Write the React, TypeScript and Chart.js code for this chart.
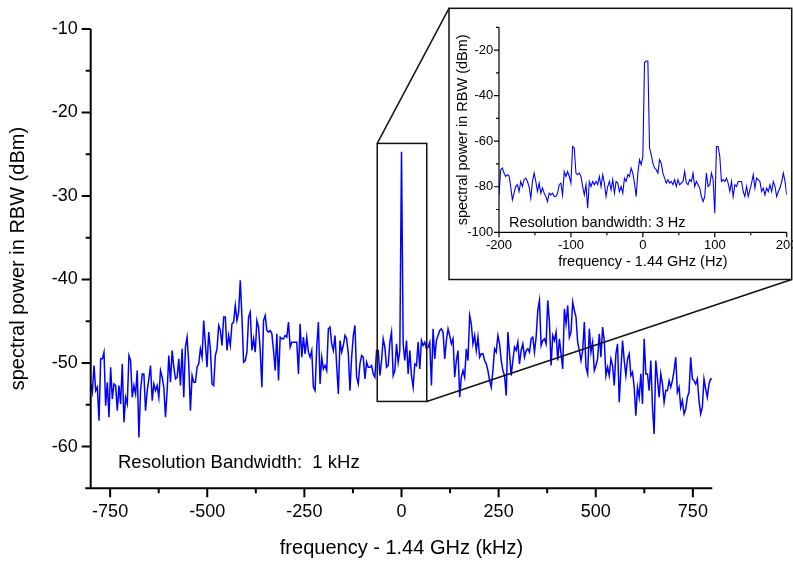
import React, { useEffect, useRef } from 'react';
import { Chart, registerables } from 'chart.js';
Chart.register(...registerables);

// ---------------- DATA ----------------
const mainStartKHz = -800;
const mainEndKHz = 800;
const mainPower = [
  -52.5,-53.5,-50.3,-53.3,-52.9,-56.9,-49.5,-49.5,-48.7,-55.1,
  -52.3,-56.5,-50.5,-54.3,-52.5,-52.7,-55.7,-52.7,-54.9,-50.1,
  -57.1,-54.1,-54.9,-49.1,-49.7,-54.1,-52.7,-53.7,-50.9,-58.9,
  -53.3,-51.3,-51.3,-55.7,-53.3,-51.9,-50.3,-54.5,-52.5,-53.3,
  -52.7,-54.1,-50.9,-51.7,-52.9,-56.5,-53.3,-49.1,-52.3,-48.5,
  -50.5,-51.9,-51.7,-49.5,-52.7,-48.3,-54.1,-48.1,-46.9,-50.1,
  -55.7,-51.5,-52.3,-52.3,-50.5,-50.1,-48.3,-49.3,-44.9,-47.7,
  -50.5,-46.3,-48.3,-52.5,-52.7,-49.1,-48.3,-45.5,-46.1,-47.9,
  -44.5,-44.5,-48.5,-46.7,-47.9,-45.3,-45.1,-43.1,-44.9,-43.9,
  -40.1,-44.5,-49.9,-49.7,-48.7,-44.5,-43.9,-48.5,-47.1,-48.7,
  -44.9,-45.7,-48.5,-52.9,-44.9,-44.3,-46.1,-46.3,-46.1,-46.5,
  -48.5,-50.9,-46.5,-52.1,-46.9,-47.1,-47.1,-46.7,-46.9,-45.1,
  -48.1,-47.5,-47.5,-47.5,-47.5,-51.3,-45.3,-49.3,-46.9,-48.9,
  -46.9,-48.7,-49.3,-48.5,-52.9,-53.3,-48.1,-45.1,-52.5,-49.3,
  -50.7,-50.3,-50.9,-45.9,-45.7,-47.7,-48.5,-46.7,-50.3,-53.7,
  -47.3,-48.7,-47.9,-46.7,-47.1,-48.9,-53.3,-49.3,-46.7,-45.5,
  -51.7,-52.5,-50.1,-49.1,-49.3,-51.9,-49.9,-50.5,-50.5,-50.3,
  -51.3,-51.7,-48.5,-48.5,-51.5,-49.7,-47.1,-48.1,-50.5,-50.3,
  -47.5,-46.3,-51.5,-50.9,-47.7,-49.9,-48.5,-24.7,-47.7,-49.7,
  -47.3,-51.3,-48.5,-51.5,-52.9,-50.1,-50.3,-47.5,-50.7,-47.3,
  -47.9,-47.5,-48.3,-48.1,-47.5,-52.7,-45.9,-49.5,-47.3,-46.7,
  -46.1,-45.9,-46.3,-49.5,-47.3,-45.9,-46.7,-47.7,-47.1,-51.7,
  -49.7,-48.5,-54.1,-51.7,-50.9,-51.7,-48.3,-49.7,-44.3,-45.3,
  -47.7,-46.7,-48.5,-46.9,-49.3,-48.9,-48.9,-49.7,-50.1,-50.9,
  -52.1,-52.9,-50.9,-48.3,-48.7,-46.7,-47.7,-49.7,-50.9,-51.5,
  -53.9,-46.3,-48.9,-51.5,-49.7,-48.1,-48.5,-47.5,-50.1,-48.5,
  -47.7,-49.3,-48.5,-48.3,-48.7,-47.1,-46.9,-48.7,-46.9,-43.7,
  -42.5,-47.9,-47.3,-47.1,-47.7,-42.5,-45.1,-50.3,-46.7,-47.3,
  -46.3,-49.7,-47.1,-48.9,-50.7,-43.5,-45.3,-43.1,-46.9,-46.3,
  -42.7,-43.7,-44.5,-47.5,-48.5,-49.7,-48.5,-45.1,-50.5,-51.3,
  -45.9,-48.7,-47.5,-50.9,-50.3,-49.5,-46.5,-49.3,-45.7,-47.3,
  -51.5,-50.5,-51.5,-49.5,-50.3,-52.7,-48.9,-47.7,-54.7,-50.9,
  -47.3,-49.7,-51.5,-49.5,-48.9,-51.5,-51.1,-52.9,-56.3,-52.9,
  -54.1,-51.3,-54.9,-47.1,-51.3,-51.3,-53.3,-49.7,-55.3,-58.5,
  -49.7,-51.9,-54.1,-51.3,-52.5,-54.7,-53.3,-53.3,-52.1,-52.9,
  -52.1,-50.9,-49.3,-53.5,-52.9,-55.3,-54.5,-56.1,-55.5,-54.1,
  -53.5,-49.3,-51.9,-52.1,-52.5,-51.9,-54.5,-56.1,-55.3,-51.9,
  -53.1,-54.1,-52.5,-51.9,-51.9,
];

const insetStartHz = -200;
const insetEndHz = 200;
const insetPower = [
  -83.6,-72.5,-71.8,-74.0,-75.5,-74.7,-75.2,-79.9,-85.8,-82.8,
  -79.9,-79.1,-82.1,-77.7,-79.9,-76.9,-76.2,-77.7,-79.9,-85.0,
  -77.7,-74.0,-77.7,-82.1,-78.4,-82.8,-80.6,-82.8,-84.3,-86.5,
  -82.8,-83.6,-82.8,-84.3,-84.3,-82.8,-79.1,-78.4,-83.6,-73.3,
  -75.5,-73.3,-75.5,-78.4,-62.3,-63.0,-74.0,-74.7,-74.0,-75.5,
  -79.9,-83.6,-79.1,-89.4,-77.7,-79.9,-77.7,-79.1,-77.7,-79.1,
  -75.5,-79.9,-74.7,-78.4,-84.3,-79.9,-77.7,-81.4,-76.9,-82.8,
  -77.7,-78.4,-82.1,-79.9,-82.8,-76.2,-77.7,-74.7,-75.5,-71.8,
  -74.0,-78.4,-84.3,-74.0,-68.1,-70.3,-66.7,-25.5,-24.8,-24.8,
  -63.0,-65.9,-69.6,-71.8,-72.5,-74.0,-68.1,-69.6,-74.0,-76.2,
  -78.4,-76.9,-78.4,-77.7,-79.1,-76.9,-79.9,-76.9,-79.1,-78.4,
  -77.7,-73.3,-78.4,-79.1,-76.9,-77.7,-74.0,-79.9,-77.7,-79.1,
  -80.6,-84.3,-86.5,-84.3,-74.0,-79.9,-79.1,-74.0,-76.9,-91.6,
  -62.3,-62.3,-66.7,-77.7,-76.9,-77.7,-76.2,-78.4,-82.1,-77.7,
  -84.3,-79.1,-79.9,-77.7,-77.7,-77.7,-82.1,-84.3,-79.9,-84.3,
  -81.4,-78.4,-74.7,-80.6,-76.2,-76.9,-77.7,-82.1,-80.6,-83.6,
  -80.6,-82.1,-79.1,-82.1,-77.7,-79.9,-84.3,-82.1,-80.6,-77.7,
  -74.0,-77.7,-83.6,
];

const mainXTicks = [-750, -500, -250, 0, 250, 500, 750];
const mainXMinor = [-625, -375, -125, 125, 375, 625];
const mainYTicks = [-10, -20, -30, -40, -50, -60];
const mainYMinor = [-15, -25, -35, -45, -55, -65];
const insetXTicks = [-200, -100, 0, 100, 200];
const insetXMinor = [-150, -50, 50, 150];
const insetYTicks = [-20, -40, -60, -80, -100];
const insetYMinor = [-10, -30, -50, -70, -90];

const zoomBoxX = [-62.5, 65];
const zoomBoxY = [-54.6, -23.7];

const mainXLabel = 'frequency - 1.44 GHz (kHz)';
const mainYLabel = 'spectral power in RBW (dBm)';
const mainNote = 'Resolution Bandwidth:  1 kHz';
const insetXLabel = 'frequency - 1.44 GHz (Hz)';
const insetYLabel = 'spectral power in RBW (dBm)';
const insetNote = 'Resolution bandwidth: 3 Hz';

// ---------------- LAYOUT ----------------
const FONT = "'Liberation Sans', Arial, Helvetica, sans-serif";
const INSET_CANVAS_LEFT = 440;
const INSET_FRAME = { l: 449, t: 8.3, r: 791.7, b: 279.5 };
const BLUE = '#0000ff';

function toPoints(start: number, end: number, values: number[]) {
  const n = values.length;
  const step = (end - start) / (n - 1);
  return values.map((v, i) => ({ x: start + i * step, y: v }));
}

type AxStyle = {
  xMajor: number[]; xMinor: number[]; yMajor: number[]; yMinor: number[];
  majorLen: number; minorLen: number; axisWidth: number; xAxisExtend: number;
};

function axesPlugin(st: AxStyle) {
  return {
    id: 'customAxes',
    afterDatasetsDraw(chart: any) {
      const { ctx, chartArea: a, scales } = chart;
      const x = scales.x, y = scales.y;
      ctx.save();
      ctx.strokeStyle = '#000';
      ctx.lineWidth = st.axisWidth;
      ctx.lineCap = 'butt';
      ctx.beginPath();
      ctx.moveTo(a.left, a.top);
      ctx.lineTo(a.left, a.bottom + st.axisWidth / 2);
      ctx.moveTo(a.left - st.xAxisExtend, a.bottom);
      ctx.lineTo(a.right, a.bottom);
      for (const v of st.xMajor) {
        const px = x.getPixelForValue(v);
        ctx.moveTo(px, a.bottom); ctx.lineTo(px, a.bottom + st.majorLen);
      }
      for (const v of st.xMinor) {
        const px = x.getPixelForValue(v);
        ctx.moveTo(px, a.bottom); ctx.lineTo(px, a.bottom + st.minorLen);
      }
      for (const v of st.yMajor) {
        const py = y.getPixelForValue(v);
        ctx.moveTo(a.left, py); ctx.lineTo(a.left - st.majorLen, py);
      }
      for (const v of st.yMinor) {
        const py = y.getPixelForValue(v);
        ctx.moveTo(a.left, py); ctx.lineTo(a.left - st.minorLen, py);
      }
      ctx.stroke();
      ctx.restore();
    },
  };
}

const mainExtras = {
  id: 'mainExtras',
  afterDatasetsDraw(chart: any) {
    const { ctx, scales } = chart;
    const x = scales.x, y = scales.y;
    const l = x.getPixelForValue(zoomBoxX[0]);
    const r = x.getPixelForValue(zoomBoxX[1]);
    const t = y.getPixelForValue(zoomBoxY[1]);
    const b = y.getPixelForValue(zoomBoxY[0]);
    ctx.save();
    ctx.strokeStyle = '#111';
    ctx.lineWidth = 1.5;
    ctx.strokeRect(l, t, r - l, b - t);
    ctx.beginPath();
    ctx.moveTo(l, t); ctx.lineTo(INSET_FRAME.l, INSET_FRAME.t);
    ctx.moveTo(r, b); ctx.lineTo(INSET_FRAME.r, INSET_FRAME.b);
    ctx.stroke();
    ctx.fillStyle = '#000';
    ctx.font = `18.5px ${FONT}`;
    ctx.textAlign = 'left';
    ctx.textBaseline = 'middle';
    ctx.fillText(mainNote, 118, 463);
    ctx.restore();
  },
};

const insetExtras = {
  id: 'insetExtras',
  afterDatasetsDraw(chart: any) {
    const { ctx } = chart;
    ctx.save();
    ctx.strokeStyle = '#111';
    ctx.lineWidth = 1.5;
    ctx.strokeRect(
      INSET_FRAME.l - INSET_CANVAS_LEFT, INSET_FRAME.t,
      INSET_FRAME.r - INSET_FRAME.l, INSET_FRAME.b - INSET_FRAME.t,
    );
    ctx.fillStyle = '#000';
    ctx.font = `14.5px ${FONT}`;
    ctx.textAlign = 'left';
    ctx.textBaseline = 'middle';
    ctx.fillText(insetNote, 69, 222.7);
    ctx.restore();
  },
};

export default function App() {
  const mainRef = useRef<HTMLCanvasElement>(null);
  const insetRef = useRef<HTMLCanvasElement>(null);

  useEffect(() => {
    const main = new Chart(mainRef.current!, {
      type: 'line',
      data: {
        datasets: [{
          data: toPoints(mainStartKHz, mainEndKHz, mainPower),
          borderColor: BLUE,
          borderWidth: 1.5,
          pointRadius: 0,
          tension: 0,
          fill: false,
        }],
      },
      options: {
        animation: false,
        responsive: false,
        devicePixelRatio: 1,
        parsing: false,
        layout: { padding: { top: 29, right: 80.7, left: 0, bottom: 0 } },
        plugins: { legend: { display: false }, tooltip: { enabled: false } },
        scales: {
          x: {
            type: 'linear', min: -800, max: 800,
            afterBuildTicks: (s: any) => { s.ticks = mainXTicks.map((v) => ({ value: v })); },
            afterFit: (s: any) => { s.height = 72.7; },
            grid: { display: false, drawTicks: true, tickLength: 9 },
            border: { display: false },
            ticks: { color: '#000', font: { family: FONT, size: 18 }, padding: 3.6, maxRotation: 0, autoSkip: false },
            title: { display: true, text: mainXLabel, color: '#000', font: { family: FONT, size: 20 }, padding: { top: 0, bottom: 1 } },
          },
          y: {
            type: 'linear', min: -65, max: -10,
            afterBuildTicks: (s: any) => { s.ticks = mainYTicks.map((v) => ({ value: v })); },
            afterFit: (s: any) => { s.width = 90.7; },
            grid: { display: false, drawTicks: true, tickLength: 9 },
            border: { display: false },
            ticks: { color: '#000', font: { family: FONT, size: 18 }, padding: 4, autoSkip: false },
            title: { display: true, text: mainYLabel, color: '#000', font: { family: FONT, size: 20 }, padding: { top: 6.5, bottom: 0 } },
          },
        },
      } as any,
      plugins: [axesPlugin({
        xMajor: mainXTicks, xMinor: mainXMinor, yMajor: mainYTicks, yMinor: mainYMinor,
        majorLen: 9, minorLen: 5, axisWidth: 2, xAxisExtend: 5.5,
      }), mainExtras],
    });

    const inset = new Chart(insetRef.current!, {
      type: 'line',
      data: {
        datasets: [{
          data: toPoints(insetStartHz, insetEndHz, insetPower),
          borderColor: BLUE,
          borderWidth: 1.1,
          pointRadius: 0,
          tension: 0,
          fill: false,
        }],
      },
      options: {
        animation: false,
        responsive: false,
        devicePixelRatio: 1,
        parsing: false,
        layout: { padding: { top: 27.3, right: 33.3, left: 0, bottom: 0 } },
        plugins: { legend: { display: false }, tooltip: { enabled: false } },
        scales: {
          x: {
            type: 'linear', min: -200, max: 200,
            afterBuildTicks: (s: any) => { s.ticks = insetXTicks.map((v) => ({ value: v })); },
            afterFit: (s: any) => { s.height = 57.7; },
            grid: { display: false, drawTicks: true, tickLength: 5 },
            border: { display: false },
            ticks: { color: '#000', font: { family: FONT, size: 13 }, padding: 0, maxRotation: 0, autoSkip: false },
            title: { display: true, text: insetXLabel, color: '#000', font: { family: FONT, size: 14.5 }, padding: { top: 0, bottom: 19.8 } },
          },
          y: {
            type: 'linear', min: -100, max: -10,
            afterBuildTicks: (s: any) => { s.ticks = insetYTicks.map((v) => ({ value: v })); },
            afterFit: (s: any) => { s.width = 59; },
            grid: { display: false, drawTicks: true, tickLength: 5 },
            border: { display: false },
            ticks: { color: '#000', font: { family: FONT, size: 13 }, padding: 0.7, autoSkip: false },
            title: { display: true, text: insetYLabel, color: '#000', font: { family: FONT, size: 14.5 }, padding: { top: 14.6, bottom: 0 } },
          },
        },
      } as any,
      plugins: [axesPlugin({
        xMajor: insetXTicks, xMinor: insetXMinor, yMajor: insetYTicks, yMinor: insetYMinor,
        majorLen: 5, minorLen: 3, axisWidth: 1.2, xAxisExtend: 0,
      }), insetExtras],
    });

    return () => { main.destroy(); inset.destroy(); };
  }, []);

  return (
    <div style={{ position: 'absolute', left: 0, top: 0, width: 793, height: 561, overflow: 'hidden', background: '#fff' }}>
      <canvas ref={mainRef} width={793} height={561}
        style={{ position: 'absolute', left: 0, top: 0, width: 793, height: 561 }} />
      <canvas ref={insetRef} width={380} height={290}
        style={{ position: 'absolute', left: INSET_CANVAS_LEFT, top: 0, width: 380, height: 290 }} />
    </div>
  );
}
